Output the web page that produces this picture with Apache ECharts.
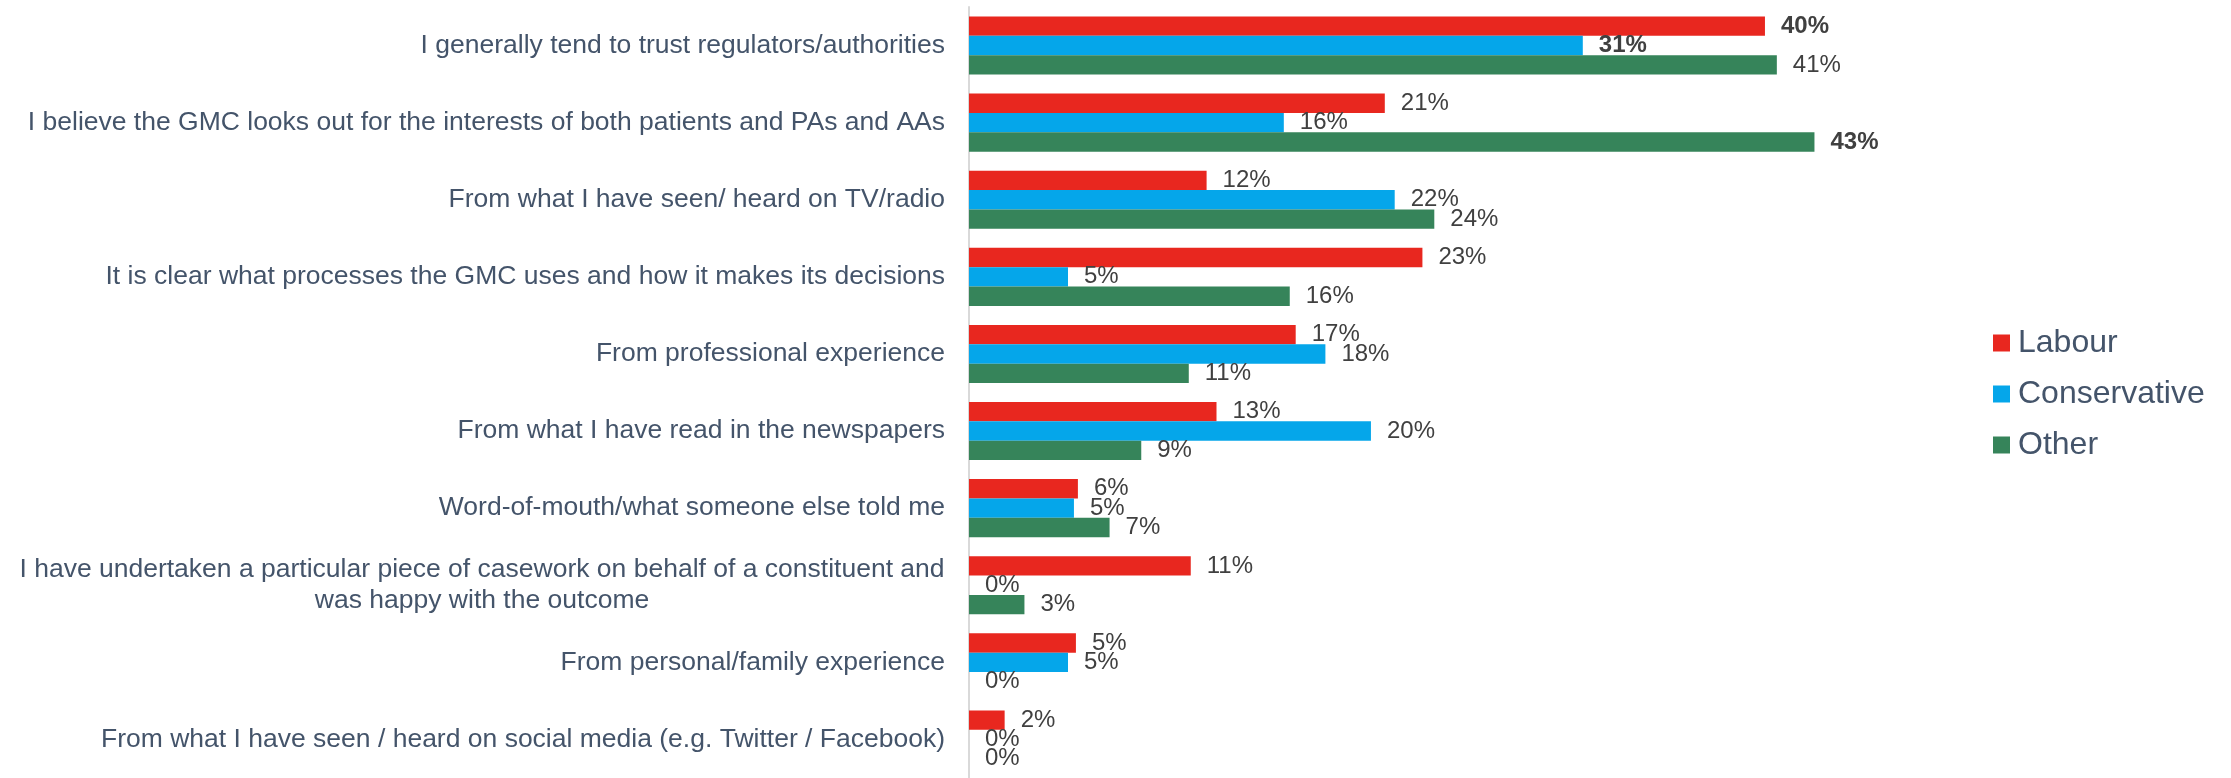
<!DOCTYPE html>
<html>
<head>
<meta charset="utf-8">
<script src="https://cdn.jsdelivr.net/npm/echarts@6/dist/echarts.min.js"></script>
<style>
html,body{margin:0;padding:0;background:#fff;}
#chart{width:2231px;height:778px;}
</style>
</head>
<body>
<div id="chart"></div>
<script>
const categories = [
  "I generally tend to trust regulators/authorities",
  "I believe the GMC looks out for the interests of both patients and PAs and AAs",
  "From what I have seen/ heard on TV/radio",
  "It is clear what processes the GMC uses and how it makes its decisions",
  "From professional experience",
  "From what I have read in the newspapers",
  "Word-of-mouth/what someone else told me",
  "I have undertaken a particular piece of casework on behalf of a constituent and\nwas happy with the outcome",
  "From personal/family experience",
  "From what I have seen / heard on social media (e.g. Twitter / Facebook)"
];
const seriesNames = ["Labour", "Conservative", "Other"];
const labour = [40.2, 21.0, 12.0, 22.9, 16.5, 12.5, 5.5, 11.2, 5.4, 1.8];
const conservative = [31.0, 15.9, 21.5, 5.0, 18.0, 20.3, 5.3, 0, 5.0, 0];
const other = [40.8, 42.7, 23.5, 16.2, 11.1, 8.7, 7.1, 2.8, 0, 0];
const boldLabour = [0];
const boldConservative = [0];
const boldOther = [1];
const colors = ["#E8271F", "#05A6EA", "#36845A"];

const FONT = '"Liberation Sans", Arial, sans-serif';

function makeData(vals, boldIdx) {
  return vals.map((v, i) => boldIdx.includes(i)
    ? { value: v, label: { fontWeight: 'bold' } }
    : v);
}

const chart = echarts.init(document.getElementById('chart'));
const mk = (name, vals, bold, color) => ({
  name: name,
  type: 'bar',
  data: makeData(vals, bold),
  itemStyle: { color: color },
  barGap: '0%',
  barCategoryGap: '24.7%',
  label: {
    show: true,
    position: 'right',
    distance: 16,
    color: '#404040',
    fontFamily: FONT,
    fontSize: 24,
    formatter: p => Math.round(p.value) + '%'
  }
});

chart.setOption({
  animation: false,
  textStyle: { fontFamily: FONT },
  grid: { left: 969, top: 7, width: 990, bottom: -5, containLabel: false },
  legend: {
    data: seriesNames,
    orient: 'vertical',
    left: 1993,
    top: 327,
    padding: 0,
    itemWidth: 17,
    itemHeight: 17,
    itemGap: 19,
    icon: 'rect',
    textStyle: { color: '#44546A', fontSize: 32, fontFamily: FONT, padding: [0, 0, 0, 3] }
  },
  xAxis: {
    type: 'value',
    min: 0,
    max: 50,
    show: false
  },
  yAxis: {
    type: 'category',
    data: categories,
    inverse: true,
    axisLine: { show: true, lineStyle: { color: '#D9D9D9', width: 2 } },
    axisTick: { show: false },
    axisLabel: {
      margin: 24,
      color: '#44546A',
      fontSize: 26.5,
      fontFamily: FONT,
      lineHeight: 31,
      formatter: v => v.includes('\n')
        ? v.split('\n').map(l => '{c|' + l + '}').join('\n')
        : v,
      rich: {
        c: { width: 926, align: 'center', fontSize: 26.5, color: '#44546A', fontFamily: FONT, lineHeight: 31 }
      }
    }
  },
  series: [
    mk(seriesNames[0], labour, boldLabour, colors[0]),
    mk(seriesNames[1], conservative, boldConservative, colors[1]),
    mk(seriesNames[2], other, boldOther, colors[2])
  ]
});
</script>
</body>
</html>
